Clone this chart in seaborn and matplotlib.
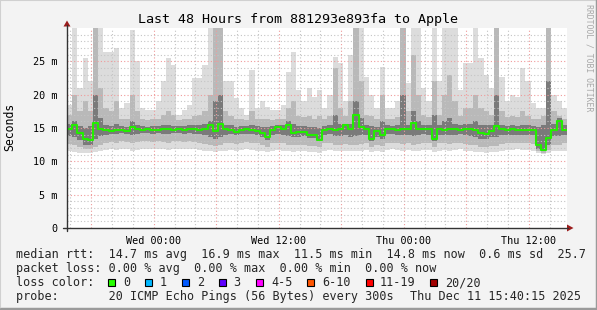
import numpy as np
import matplotlib
matplotlib.use("Agg")
import matplotlib.pyplot as plt
import seaborn as sns
import pandas as pd
from matplotlib.patches import Rectangle, Polygon
from matplotlib.lines import Line2D

# ---------------- data (ms), 30-minute bins over the last 48 hours ----------------
bin_hours = 0.5
median = [14.8, 15.5, 14.3, 13.3, 13.2, 15.8, 14.9, 14.7, 14.6, 14.7, 14.7, 14.6,
          15.2, 14.8, 14.7, 14.8, 14.7, 14.7, 14.8, 14.8, 14.7, 14.8, 14.7, 14.8,
          14.8, 14.7, 14.8, 15.5, 14.5, 15.6, 14.8, 14.7, 14.4, 14.7, 14.8, 14.7,
          14.6, 14.2, 13.7, 14.7, 15.1, 14.8, 15.5, 14.2, 14.4, 14.4, 14.0, 13.9,
          13.2, 14.7, 14.8, 14.7, 14.8, 15.4, 14.9, 17.0, 15.1, 14.8, 13.3, 14.5,
          13.9, 14.8, 14.8, 14.7, 14.8, 14.8, 15.8, 14.8, 14.8, 14.8, 13.3, 14.8,
          14.7, 14.8, 14.8, 14.7, 14.8, 14.8, 14.7, 14.3, 14.1, 14.5, 15.3, 14.8,
          14.7, 14.8, 14.7, 14.7, 14.7, 14.7, 12.5, 11.7, 13.5, 14.7, 16.0, 14.7]
smoke_max = [18.5, 31, 21, 25.5, 22, 31, 31, 26.4, 26.4, 27, 18, 18.7,
             29.7, 25, 18, 17.7, 17.7, 19, 22, 25.5, 24.4, 17, 17.7, 18.5,
             22.5, 22.5, 24.4, 31, 31, 31, 22, 22, 19.5, 18, 17, 23.7,
             18, 19, 18.2, 17.7, 17.7, 18.5, 23.4, 26.4, 20.7, 19, 21, 19.7,
             20.7, 18, 20, 25.7, 24.7, 19, 26, 31, 31, 22.7, 20, 18,
             24.2, 18, 18, 19, 31, 21.7, 31, 31, 21, 19, 31, 22,
             31, 31, 31, 20.7, 24.7, 24.7, 31, 25.5, 23, 21, 31, 22.7,
             19, 20, 19.7, 24, 22, 18.7, 18, 18, 31, 20, 19, 18]
smoke_q90 = [17.0, 20, 17.5, 19, 17.5, 31, 21, 18, 17.5, 19, 16.4, 16.3,
             20, 17.5, 16.3, 16.2, 16.4, 16.3, 17, 17.5, 17, 16.2, 16.3, 16.4,
             16.8, 17, 17.5, 20, 31, 31, 17.5, 16.8, 16.4, 16.3, 16.2, 17.5,
             16.3, 16.4, 16.3, 16.2, 16.4, 16.4, 18, 19, 16.8, 16.6, 16.8, 16.4,
             16.8, 16.3, 16.8, 24, 18, 16.8, 19, 31, 22, 17, 16.8, 16.3,
             20, 16.4, 16.3, 16.6, 31, 17.5, 26, 20, 17, 16.6, 22, 17,
             20, 23, 19, 16.8, 18, 18, 20, 18, 17.5, 17, 31, 17.5,
             16.6, 16.8, 16.6, 17.5, 16.8, 16.4, 16.3, 16.8, 31, 17.5, 16.8, 16.4]
smoke_q75 = [15.6, 16, 15.3, 15, 15.3, 20, 16.5, 15.4, 15.3, 15.6, 15.3, 15.2,
             16, 15.4, 15.3, 15.2, 15.3, 15.3, 15.4, 15.5, 15.3, 15.3, 15.3, 15.4,
             15.4, 15.4, 15.6, 16, 19, 20, 15.5, 15.4, 15.2, 15.3, 15.3, 15.4,
             15.3, 15.2, 15.1, 15.3, 15.4, 15.4, 16, 15.6, 15.3, 15.3, 15.1, 15.1,
             15.0, 15.3, 15.4, 17, 15.6, 15.6, 15.6, 19, 16.5, 15.4, 15.3, 15.2,
             16, 15.4, 15.3, 15.4, 20, 15.4, 17.5, 16, 15.4, 15.4, 17, 15.4,
             16, 16.5, 15.6, 15.4, 15.6, 15.6, 16, 15.5, 15.4, 15.4, 20, 15.5,
             15.3, 15.4, 15.3, 15.4, 15.4, 15.3, 15.1, 15.4, 22, 15.6, 16.5, 15.4]
smoke_q25 = [13.8, 13.6, 13.2, 12.5, 12.4, 13.4, 13.8, 14.0, 14.1, 14.1, 14.2, 14.1,
             14.0, 14.1, 14.2, 14.2, 14.1, 14.2, 14.1, 14.1, 14.2, 14.2, 14.1, 14.2,
             14.1, 14.1, 13.9, 13.6, 13.4, 13.7, 14.0, 14.1, 13.9, 14.1, 14.1, 14.1,
             14.0, 13.6, 13.2, 14.0, 14.1, 14.0, 13.8, 13.6, 13.7, 13.8, 13.5, 13.5,
             13.0, 14.0, 14.1, 13.8, 13.8, 13.9, 13.7, 13.8, 13.9, 14.0, 13.0, 13.7,
             13.4, 14.1, 14.1, 14.0, 13.9, 14.0, 13.8, 13.9, 14.1, 14.0, 13.0, 14.0,
             14.0, 13.9, 14.0, 14.1, 13.9, 13.8, 13.7, 13.4, 13.3, 13.6, 13.6, 13.9,
             14.0, 14.0, 14.0, 14.0, 14.0, 13.9, 11.9, 11.5, 12.4, 13.8, 13.8, 14.0]
smoke_q10 = [12.6, 12.4, 12.1, 11.8, 11.8, 12.2, 12.5, 12.8, 12.9, 12.8, 13.0, 12.9,
             12.7, 12.9, 13.0, 13.0, 12.9, 13.0, 12.9, 12.8, 13.0, 13.0, 12.9, 13.0,
             12.9, 12.8, 12.6, 12.4, 12.3, 12.5, 12.7, 12.8, 12.6, 12.8, 12.9, 12.8,
             12.7, 12.4, 12.2, 12.7, 12.8, 12.7, 12.5, 12.4, 12.5, 12.5, 12.3, 12.3,
             12.1, 12.7, 12.8, 12.5, 12.5, 12.6, 12.5, 12.5, 12.6, 12.7, 12.1, 12.5,
             12.3, 12.8, 12.8, 12.7, 12.6, 12.7, 12.5, 12.6, 12.8, 12.7, 12.1, 12.7,
             12.7, 12.6, 12.7, 12.8, 12.6, 12.5, 12.4, 12.2, 12.1, 12.3, 12.3, 12.6,
             12.7, 12.7, 12.7, 12.7, 12.7, 12.6, 11.5, 11.3, 11.7, 12.5, 12.5, 12.7]
smoke_min = [11.5, 11.4, 11.3, 11.2, 11.2, 11.4, 11.6, 11.7, 11.8, 11.7, 11.8, 11.8,
             11.6, 11.7, 11.8, 11.9, 11.8, 11.9, 11.8, 11.7, 11.8, 11.9, 11.8, 11.9,
             11.8, 11.7, 11.6, 11.5, 11.4, 11.5, 11.6, 11.7, 11.6, 11.7, 11.8, 11.7,
             11.6, 11.5, 11.4, 11.6, 11.7, 11.6, 11.5, 11.4, 11.5, 11.5, 11.4, 11.4,
             11.3, 11.6, 11.7, 11.5, 11.5, 11.6, 11.5, 11.5, 11.6, 11.7, 11.4, 11.5,
             11.4, 11.7, 11.8, 11.7, 11.6, 11.7, 11.5, 11.6, 11.7, 11.7, 11.4, 11.6,
             11.7, 11.6, 11.7, 11.8, 11.6, 11.5, 11.4, 11.4, 11.3, 11.4, 11.4, 11.6,
             11.7, 11.7, 11.8, 11.7, 11.7, 11.6, 11.2, 11.1, 11.2, 11.5, 11.5, 11.6]

x_tick_pos = [8.333, 20.333, 32.333, 44.333]
x_tick_labels = ["Wed 00:00", "Wed 12:00", "Thu 00:00", "Thu 12:00"]
y_tick_pos = [0, 5, 10, 15, 20, 25]
y_tick_labels = ["0", "5 m", "10 m", "15 m", "20 m", "25 m"]

title = "Last 48 Hours from 881293e893fa to Apple"
legend_lines = [
    "median rtt:  14.7 ms avg  16.9 ms max  11.5 ms min  14.8 ms now  0.6 ms sd  25.7",
    "packet loss: 0.00 % avg  0.00 % max  0.00 % min  0.00 % now",
]
loss_labels = ["0", "1", "2", "3", "4-5", "6-10", "11-19", "20/20"]
loss_colors = ["#26ff00", "#00b8ff", "#0059ff", "#5e00ff", "#ff00ff", "#ff5500", "#ff0000", "#a10000"]
probe_text = "probe:       20 ICMP Echo Pings (56 Bytes) every 300s"
date_text = "Thu Dec 11 15:40:15 2025"

# ---------------- figure ----------------
sns.set_theme(style="white")
plt.rcParams['font.family'] = ['DejaVu Sans Mono']

W, H = 597, 310
fig = plt.figure(figsize=(W / 100, H / 100), dpi=100, facecolor="#f3f3f3")


def fx(px):
    return px / W


def fy(py):
    return 1 - py / H


# frame shading
fig.add_artist(Line2D([0, 0, 1], [0, 1, 1], transform=fig.transFigure, color="#d0d0d0", lw=1.5))
fig.add_artist(Line2D([fx(1), 1 - 0.5 / W, 1 - 0.5 / W], [1 / H, 1 / H, 1], transform=fig.transFigure,
                      color="#9a9a9a", lw=2.5))

X0, X1, Y0, Y1 = 67, 567, 228, 28
ax = fig.add_axes([fx(X0), fy(Y0), (X1 - X0) / W, (Y0 - Y1) / H])
ax.set_facecolor("white")

n = len(median)
edges = np.arange(n + 1) * bin_hours
df = pd.DataFrame({"hours": edges, "median": median + [median[-1]]})


def ext(a):
    return list(a) + [a[-1]]


ax.fill_between(edges, ext(smoke_min), ext(smoke_max), step="post", color="#dcdcdc", lw=0, zorder=1)
ax.fill_between(edges, ext(smoke_q10), ext(smoke_q90), step="post", color="#b9b9b9", lw=0, zorder=1.1)
ax.fill_between(edges, ext(smoke_q25), ext(smoke_q75), step="post", color="#7a7a7a", lw=0, zorder=1.2)

# grid (drawn over the smoke like rrdtool)
dot = (0, (1, 2))
minor_x = [h for h in np.arange(0.3333, 48, 2.0)]
major_x = [h for h in np.arange(2.3333, 48, 6.0)]
minor_x = [h for h in minor_x if min(abs(h - m) for m in major_x) > 0.1]
ax.vlines(minor_x, 0, 30, colors="#c4c4c4", linestyles=dot, lw=0.8, zorder=3)
ax.vlines(major_x, 0, 30, colors="#f09a9a", linestyles=dot, lw=0.8, zorder=3)
minor_y = [v for v in range(1, 30) if v % 5 != 0]
major_y = [5, 10, 15, 20, 25]
ax.hlines(minor_y, 0, 48, colors="#c4c4c4", linestyles=dot, lw=0.8, zorder=3)
ax.hlines(major_y, 0, 48, colors="#f09a9a", linestyles=dot, lw=0.8, zorder=3)

sns.lineplot(data=df, x="hours", y="median", ax=ax, color="#22ee00", lw=1.5,
             drawstyle="steps-post", zorder=5, legend=False)

ax.set_xlim(0, 48)
ax.set_ylim(0, 30)
for s in ax.spines.values():
    s.set_visible(False)
ax.set_xlabel("")
ax.set_ylabel("")
ax.set_xticks(x_tick_pos)
ax.set_xticklabels(x_tick_labels)
ax.set_yticks(y_tick_pos)
ax.set_yticklabels(y_tick_labels)
ax.set_xticks(minor_x + major_x, minor=True)
ax.tick_params(axis="both", which="major", labelsize=7.3, length=3, width=0.8, color="#333333",
               labelcolor="black", direction="out")
ax.tick_params(axis="x", which="major", pad=3)
ax.tick_params(axis="y", which="major", pad=4)
ax.tick_params(axis="x", which="minor", length=2, width=0.8, color="#333333", direction="out")

# axes lines with arrows
axis_col = "#333333"
arrow_col = "#9b1c1c"
fig.add_artist(Line2D([fx(X0), fx(X0)], [fy(231), fy(25)], transform=fig.transFigure, color=axis_col, lw=1))
fig.add_artist(Line2D([fx(63), fx(568)], [fy(Y0), fy(Y0)], transform=fig.transFigure, color=axis_col, lw=1))
fig.add_artist(Polygon([[fx(63.5), fy(26.5)], [fx(70.5), fy(26.5)], [fx(67), fy(20.5)]],
                       closed=True, transform=fig.transFigure, color=arrow_col, lw=0))
fig.add_artist(Polygon([[fx(567), fy(224.5)], [fx(567), fy(231.5)], [fx(573.5), fy(228)]],
                       closed=True, transform=fig.transFigure, color=arrow_col, lw=0))

# texts
fig.text(fx(298), fy(19), title, ha="center", va="center", fontsize=9.6, color="black")
fig.text(fx(10), fy(127), "Seconds", rotation=90, ha="center", va="center", fontsize=8.3, color="black")
fig.text(fx(588.5), fy(4), "RRDTOOL / TOBI OETIKER", rotation=-90, ha="center", va="top",
         fontsize=5.9, color="#a8a8a8")

fs = 8.45
fig.text(fx(16), fy(254.5), legend_lines[0], ha="left", va="center", fontsize=fs)
fig.text(fx(16), fy(268.5), legend_lines[1], ha="left", va="center", fontsize=fs)
fig.text(fx(16), fy(282.5), "loss color:", ha="left", va="center", fontsize=fs)
sq_x = [108, 145, 182, 219, 256, 307, 366, 430]
lab_x = [123, 160, 197, 233, 271, 322, 380, 445]
for sx, lx, lab, col in zip(sq_x, lab_x, loss_labels, loss_colors):
    fig.add_artist(Rectangle((fx(sx), fy(286)), 7 / W, 7.5 / H, transform=fig.transFigure,
                             facecolor=col, edgecolor="black", lw=0.8))
    fig.text(fx(lx), fy(282.5), lab, ha="left", va="center", fontsize=fs)
fig.text(fx(16), fy(296.5), probe_text, ha="left", va="center", fontsize=fs)
fig.text(fx(581), fy(296.5), date_text, ha="right", va="center", fontsize=fs)

fig.savefig("out.png", dpi=100, facecolor=fig.get_facecolor())
